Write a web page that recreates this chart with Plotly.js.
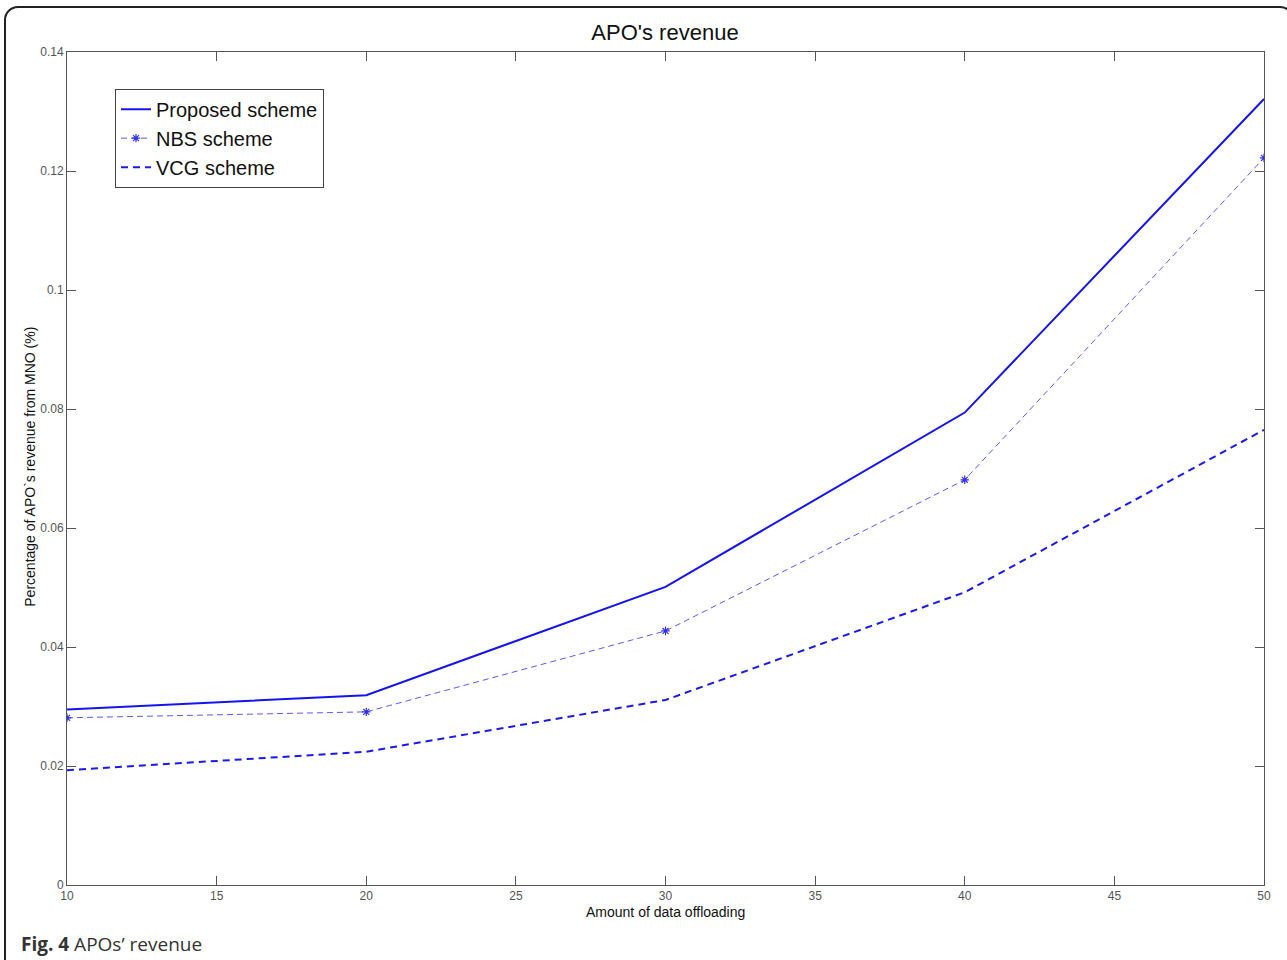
<!DOCTYPE html>
<html>
<head>
<meta charset="utf-8">
<script src="https://cdn.plot.ly/plotly-3.0.1.min.js"></script>
<style>
html,body{margin:0;padding:0;background:#fff;}
#wrap{position:relative;width:1287px;height:960px;overflow:hidden;}
#chart{width:1287px;height:960px;}
#frame{position:absolute;left:4px;top:6px;width:1290px;height:990px;border:2px solid #222;border-radius:14px;pointer-events:none;box-sizing:border-box;}
</style>
</head>
<body>
<div id="wrap"><div id="chart"></div><div id="frame"></div></div>
<script>
const xData = [10, 20, 30, 40, 50];
const proposed = [0.0295, 0.0319, 0.0501, 0.0794, 0.1321];
const nbs = [0.0281, 0.0291, 0.0427, 0.0681, 0.1222];
const vcg = [0.0193, 0.0224, 0.0311, 0.0492, 0.0765];
const xTicks = [10, 15, 20, 25, 30, 35, 40, 45, 50];
const yTicks = [0, 0.02, 0.04, 0.06, 0.08, 0.1, 0.12, 0.14];
const yTickText = ['0', '0.02', '0.04', '0.06', '0.08', '0.1', '0.12', '0.14'];
const seriesNames = ['Proposed scheme', 'NBS scheme', 'VCG scheme'];

const traces = [
  {x: xData, y: proposed, name: seriesNames[0], mode: 'lines', line: {color: '#1414f0', width: 2}},
  {x: xData, y: nbs, name: seriesNames[1], mode: 'lines+markers', line: {color: '#5a5af5', width: 1, dash: '6px,4px'},
   marker: {symbol: 'asterisk-open', size: 7, color: '#3030f0', line: {width: 1.2, color: '#3030f0'}}},
  {x: xData, y: vcg, name: seriesNames[2], mode: 'lines', line: {color: '#1a1af0', width: 2, dash: '7px,5px'}}
];

const axisCommon = {
  showline: true, linecolor: '#555', linewidth: 1, mirror: 'ticks',
  ticks: 'inside', ticklen: 9, tickcolor: '#555', tickwidth: 1,
  showgrid: false, zeroline: false,
  tickfont: {family: 'Arial, Liberation Sans, sans-serif', size: 12, color: '#555'}
};

const layout = {
  width: 1287, height: 960,
  paper_bgcolor: '#fff', plot_bgcolor: '#fff',
  margin: {l: 67, r: 23, t: 52, b: 75},
  title: {text: "APO's revenue", x: 0.5167, xanchor: 'center', y: 0.966, yanchor: 'middle',
          font: {family: 'Arial, Liberation Sans, sans-serif', size: 22, color: '#111'}},
  xaxis: Object.assign({}, axisCommon, {range: [10, 50], tickvals: xTicks, ticktext: xTicks.map(String), ticklabelstandoff: 0}),
  yaxis: Object.assign({}, axisCommon, {range: [0, 0.14], tickvals: yTicks, ticktext: yTickText}),
  showlegend: true,
  legend: {x: 0.0401, y: 0.956, xanchor: 'left', yanchor: 'top', bgcolor: '#fff', bordercolor: '#444', borderwidth: 1,
           font: {family: 'Arial, Liberation Sans, sans-serif', size: 20, color: '#111'},
           tracegroupgap: 0, itemwidth: 30},
  annotations: [
    {text: 'Amount of data offloading', xref: 'paper', yref: 'paper', x: 0.5, y: -0.02, yanchor: 'top', xanchor: 'center', showarrow: false,
     font: {family: 'Arial, Liberation Sans, sans-serif', size: 14, color: '#111'}},
    {text: "Percentage of APO`s revenue from MNO (%)", xref: 'paper', yref: 'paper', x: -0.031, y: 0.502, xanchor: 'center', yanchor: 'middle',
     textangle: -90, showarrow: false, font: {family: 'Arial, Liberation Sans, sans-serif', size: 14, color: '#111'}},
    {text: "<b>Fig. 4</b> APOs’ revenue", xref: 'paper', yref: 'paper', x: -0.04, y: -0.071, xanchor: 'left', yanchor: 'middle',
     showarrow: false, font: {family: 'Open Sans, Noto Sans, sans-serif', size: 19, color: '#333'}}
  ]
};

Plotly.newPlot('chart', traces, layout, {displayModeBar: false, responsive: false});
</script>
</body>
</html>
